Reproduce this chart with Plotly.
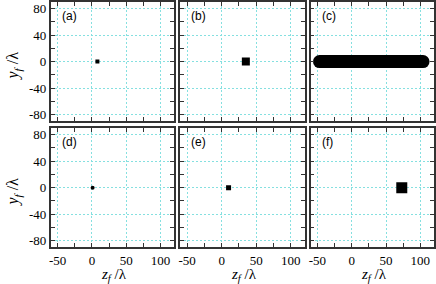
import plotly.graph_objects as go

# ---- data ----
panel_labels = ["(a)", "(b)", "(c)", "(d)", "(e)", "(f)"]
a_z, a_y = [8], [0]
b_z, b_y = [35], [0]
c_z, c_y = [-47, 104], [0, 0]   # elongated cloud (band) ends
d_z, d_y = [1], [0]
e_z, e_y = [10], [0]
f_z, f_y = [73], [0]

x_tickvals = [-50, 0, 50, 100]
x_ticktext = ["-50", "0", "50", "100"]
y_tickvals = [-80, -40, 0, 40, 80]
y_ticktext = ["-80", "-40", "0", "40", "80"]

W, H = 436, 284
xdoms = [(49, 173), (179, 304), (310, 434)]
ydoms = [(1, 121), (128, 248)]

fig = go.Figure()

series = [
    (a_z, a_y, "square", 4, "markers"),
    (b_z, b_y, "square", 8, "markers"),
    (c_z, c_y, "circle", 13, "lines+markers"),
    (d_z, d_y, "circle", 4, "markers"),
    (e_z, e_y, "square", 5, "markers"),
    (f_z, f_y, "square", 11, "markers"),
]

tick_font = dict(family="Liberation Serif", size=13, color="black")
axcol = "#333333"
gridcol = "#85e0e0"

for i, (zs, ys, sym, sz, mode) in enumerate(series):
    r, c = divmod(i, 3)
    n = i + 1
    xa = "x" if n == 1 else f"x{n}"
    ya = "y" if n == 1 else f"y{n}"
    fig.add_trace(go.Scatter(
        x=zs, y=ys, mode=mode, xaxis=xa, yaxis=ya,
        marker=dict(symbol=sym, size=sz, color="black", line=dict(width=0)),
        line=dict(color="black", width=13),
        showlegend=False, hoverinfo="skip"))
    x0, x1 = xdoms[c]
    y0, y1 = ydoms[r]
    xkey = "xaxis" if n == 1 else f"xaxis{n}"
    ykey = "yaxis" if n == 1 else f"yaxis{n}"
    fig.layout[xkey] = dict(
        domain=[x0 / W, x1 / W], anchor=ya, range=[-60, 120],
        tickvals=x_tickvals, ticktext=x_ticktext, ticks="",
        showticklabels=(r == 1), tickfont=tick_font,
        showgrid=True, gridcolor=gridcol, griddash="2px,2px", gridwidth=1,
        zeroline=False, showline=True, linecolor=axcol, linewidth=1.8,
        mirror="ticks",
        minor=dict(dtick=25, tick0=-25, ticks="inside", ticklen=4,
                   tickcolor=axcol, tickwidth=1, showgrid=False),
        fixedrange=True)
    fig.layout[ykey] = dict(
        domain=[1 - y1 / H, 1 - y0 / H], anchor=xa, range=[-90, 90],
        tickvals=y_tickvals, ticktext=y_ticktext, ticks="",
        showticklabels=(c == 0), tickfont=tick_font,
        showgrid=True, gridcolor=gridcol, griddash="2px,2px", gridwidth=1,
        zeroline=False, showline=True, linecolor=axcol, linewidth=1.8,
        mirror="ticks",
        minor=dict(dtick=20, tick0=-20, ticks="inside", ticklen=4,
                   tickcolor=axcol, tickwidth=1, showgrid=False),
        fixedrange=True)
    fig.add_annotation(
        text=panel_labels[i], xref=f"{xa} domain", yref=f"{ya} domain",
        x=9 / 124, y=1 - 14 / 120, xanchor="left", yanchor="middle",
        showarrow=False, font=dict(family="Liberation Sans", size=12, color="black"))

# axis titles
for r in range(2):
    y0, y1 = ydoms[r]
    fig.add_annotation(
        text="<i>y<sub>f</sub></i> /λ", xref="paper", yref="paper",
        x=12 / W, y=1 - ((y0 + y1) / 2 + 4) / H, textangle=-90,
        showarrow=False, xanchor="center", yanchor="middle",
        font=dict(family="Liberation Serif", size=16, color="black"))
for c in range(3):
    x0, x1 = xdoms[c]
    fig.add_annotation(
        text="<i>z<sub>f</sub></i> /λ", xref="paper", yref="paper",
        x=((x0 + x1) / 2 + 2) / W, y=1 - 276 / H,
        showarrow=False, xanchor="center", yanchor="middle",
        font=dict(family="Liberation Serif", size=15, color="black"))

fig.update_layout(
    width=W, height=H, margin=dict(l=0, r=0, t=0, b=0),
    paper_bgcolor="white", plot_bgcolor="white")

fig.write_html("out.html", config={"displayModeBar": False},
               post_script="document.body.style.margin='0';document.body.style.overflow='hidden';")
